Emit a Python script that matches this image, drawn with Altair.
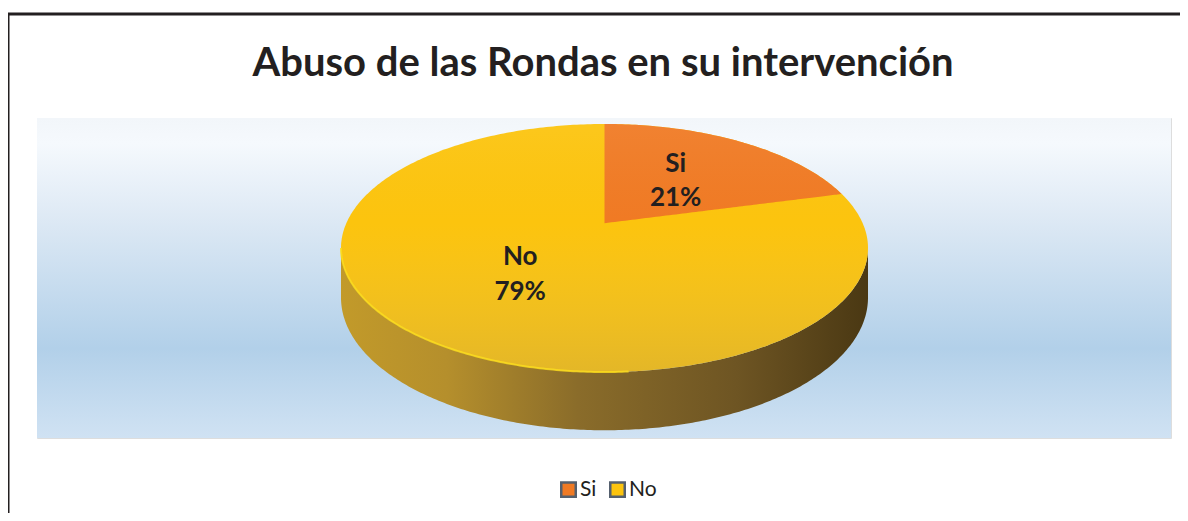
import math
import altair as alt
import pandas as pd

# ---- chart content
title_text = "Abuso de las Rondas en su intervención"
categories = ["Si", "No"]
shares = [21, 79]
share_labels = ["21%", "79%"]
colors = ["#F07A24", "#FCC40E"]

# ---- layout of the drawn pie, in pie units (the ellipse is -1..1 on both scales)
APEX_Y = 0.20      # the tilted pie's visual centre sits above the ellipse centre
RIM_X = 0.90       # where the Si slice meets the rim on the right
WALL = 0.40        # depth of the side wall
WALL_RY = 1.07     # lower rim ellipse, slightly rounder through perspective
LABEL_X = {"Si": 0.27, "No": -0.32}
LABEL_Y = {"Si": (0.68, 0.405), "No": (-0.07, -0.355)}
FONT = "Lato"
W, H = 1134, 320

x_scale = alt.Scale(domain=[-1, 1], range=[304, 831], nice=False, zero=False)
y_scale = alt.Scale(domain=[-1, 1], range=[254, 6], nice=False, zero=False)
X = alt.X("x:Q", scale=x_scale, axis=None)
Y = alt.Y("y:Q", scale=y_scale, axis=None, stack=None)
Y2 = alt.Y2("y2:Q")

n = 240
xs = [-math.cos(math.pi * i / n) for i in range(n + 1)]
rim = lambda v: math.sqrt(max(0.0, 1 - v * v))

ellipse = pd.DataFrame({"x": xs, "y": [rim(v) for v in xs], "y2": [-rim(v) for v in xs],
                        "cat": "No"})
wall = pd.DataFrame({"x": xs, "y": [-rim(v) for v in xs],
                     "y2": [-WALL - WALL_RY * rim(v) for v in xs]})
edge = pd.DataFrame({"x": [v for v in xs if v < 0.1],
                     "y": [-rim(v) for v in xs if v < 0.1]})

rim_y = rim(RIM_X)
si_x = [0.0] + [v for v in xs if 0 < v < RIM_X] + [RIM_X]
si = pd.DataFrame({"x": si_x, "y": [rim(v) for v in si_x],
                   "y2": [APEX_Y + (rim_y - APEX_Y) * v / RIM_X for v in si_x], "cat": "Si"})

rows = []
for cat, share_label in zip(categories, share_labels):
    y_a, y_b = LABEL_Y[cat]
    rows.append({"x": LABEL_X[cat], "y": y_a, "t": cat})
    rows.append({"x": LABEL_X[cat], "y": y_b, "t": share_label})
labels = pd.DataFrame(rows)

color = alt.Color("cat:N", scale=alt.Scale(domain=categories, range=colors),
                  legend=alt.Legend(title=None, orient="none", legendX=521, legendY=361,
                                    direction="horizontal", symbolType="square", symbolSize=210,
                                    symbolStrokeColor="#55606E", symbolStrokeWidth=2.5,
                                    symbolOpacity=1, labelFont=FONT, labelFontSize=21,
                                    labelColor="#231F20", labelOffset=1, columnPadding=8))

blank = pd.DataFrame({"a": [0]})
background = alt.Chart(blank).mark_rect(
    fill=alt.Gradient(gradient="linear", x1=0, y1=0, x2=0, y2=1, stops=[
        alt.GradientStop(offset=0, color="#F2F6FA"),
        alt.GradientStop(offset=0.08, color="#F5F9FD"),
        alt.GradientStop(offset=0.3, color="#DFEAF5"),
        alt.GradientStop(offset=0.72, color="#B2D0E9"),
        alt.GradientStop(offset=1, color="#D0E2F3"),
    ])
).encode(x=alt.value(0), x2=alt.value(W), y=alt.value(0), y2=alt.value(H))

wall_layer = alt.Chart(wall).mark_area(
    fill=alt.Gradient(gradient="linear", x1=0, y1=0, x2=1, y2=0, stops=[
        alt.GradientStop(offset=0, color="#C29A2A"),
        alt.GradientStop(offset=0.2, color="#B58F2C"),
        alt.GradientStop(offset=0.45, color="#8A6C2A"),
        alt.GradientStop(offset=0.75, color="#6E5523"),
        alt.GradientStop(offset=1, color="#4A3813"),
    ])
).encode(x=X, y=Y, y2=Y2)

no_top = alt.Chart(ellipse).mark_area().encode(x=X, y=Y, y2=Y2, color=color)
si_top = alt.Chart(si).mark_area().encode(x=X, y=Y, y2=Y2, color=color)

shade = alt.Chart(ellipse).mark_area(
    fill=alt.Gradient(gradient="linear", x1=0, y1=0, x2=0, y2=1, stops=[
        alt.GradientStop(offset=0, color="rgba(255,255,255,0.06)"),
        alt.GradientStop(offset=0.4, color="rgba(200,190,150,0)"),
        alt.GradientStop(offset=1, color="rgba(150,140,120,0.24)"),
    ])
).encode(x=X, y=Y, y2=Y2)

edge_layer = alt.Chart(edge).mark_line(color="#FBDC1C", strokeWidth=2, opacity=0.85).encode(
    x=X, y=alt.Y("y:Q", scale=y_scale, axis=None))

text = alt.Chart(labels).mark_text(font=FONT, fontWeight="bold", fontSize=26, color="#231F20").encode(
    x=X, y=alt.Y("y:Q", scale=y_scale, axis=None), text="t:N")

title_mark = alt.Chart(blank).mark_text(font=FONT, fontWeight="bold", fontSize=40, color="#231F20",
                                        align="center", baseline="middle", text=title_text).encode(
    x=alt.value(566), y=alt.value(-54))

frame_top = alt.Chart(blank).mark_rule(color="#231F20", strokeWidth=3).encode(
    x=alt.value(-29), x2=alt.value(W + 9), y=alt.value(-104))
frame_left = alt.Chart(blank).mark_rule(color="#231F20", strokeWidth=3).encode(
    x=alt.value(-29), y=alt.value(-104), y2=alt.value(H + 75))

chart = alt.layer(background, wall_layer, no_top, si_top, shade, edge_layer, text, title_mark,
                  frame_top, frame_left).properties(
    width=W, height=H,
    autosize=alt.AutoSizeParams(type="none"),
    padding={"left": 29, "top": 110, "right": 9, "bottom": 75},
).configure_view(stroke=None).configure(background="white")

chart.save("out.html", embed_options={"renderer": "svg", "actions": False})
